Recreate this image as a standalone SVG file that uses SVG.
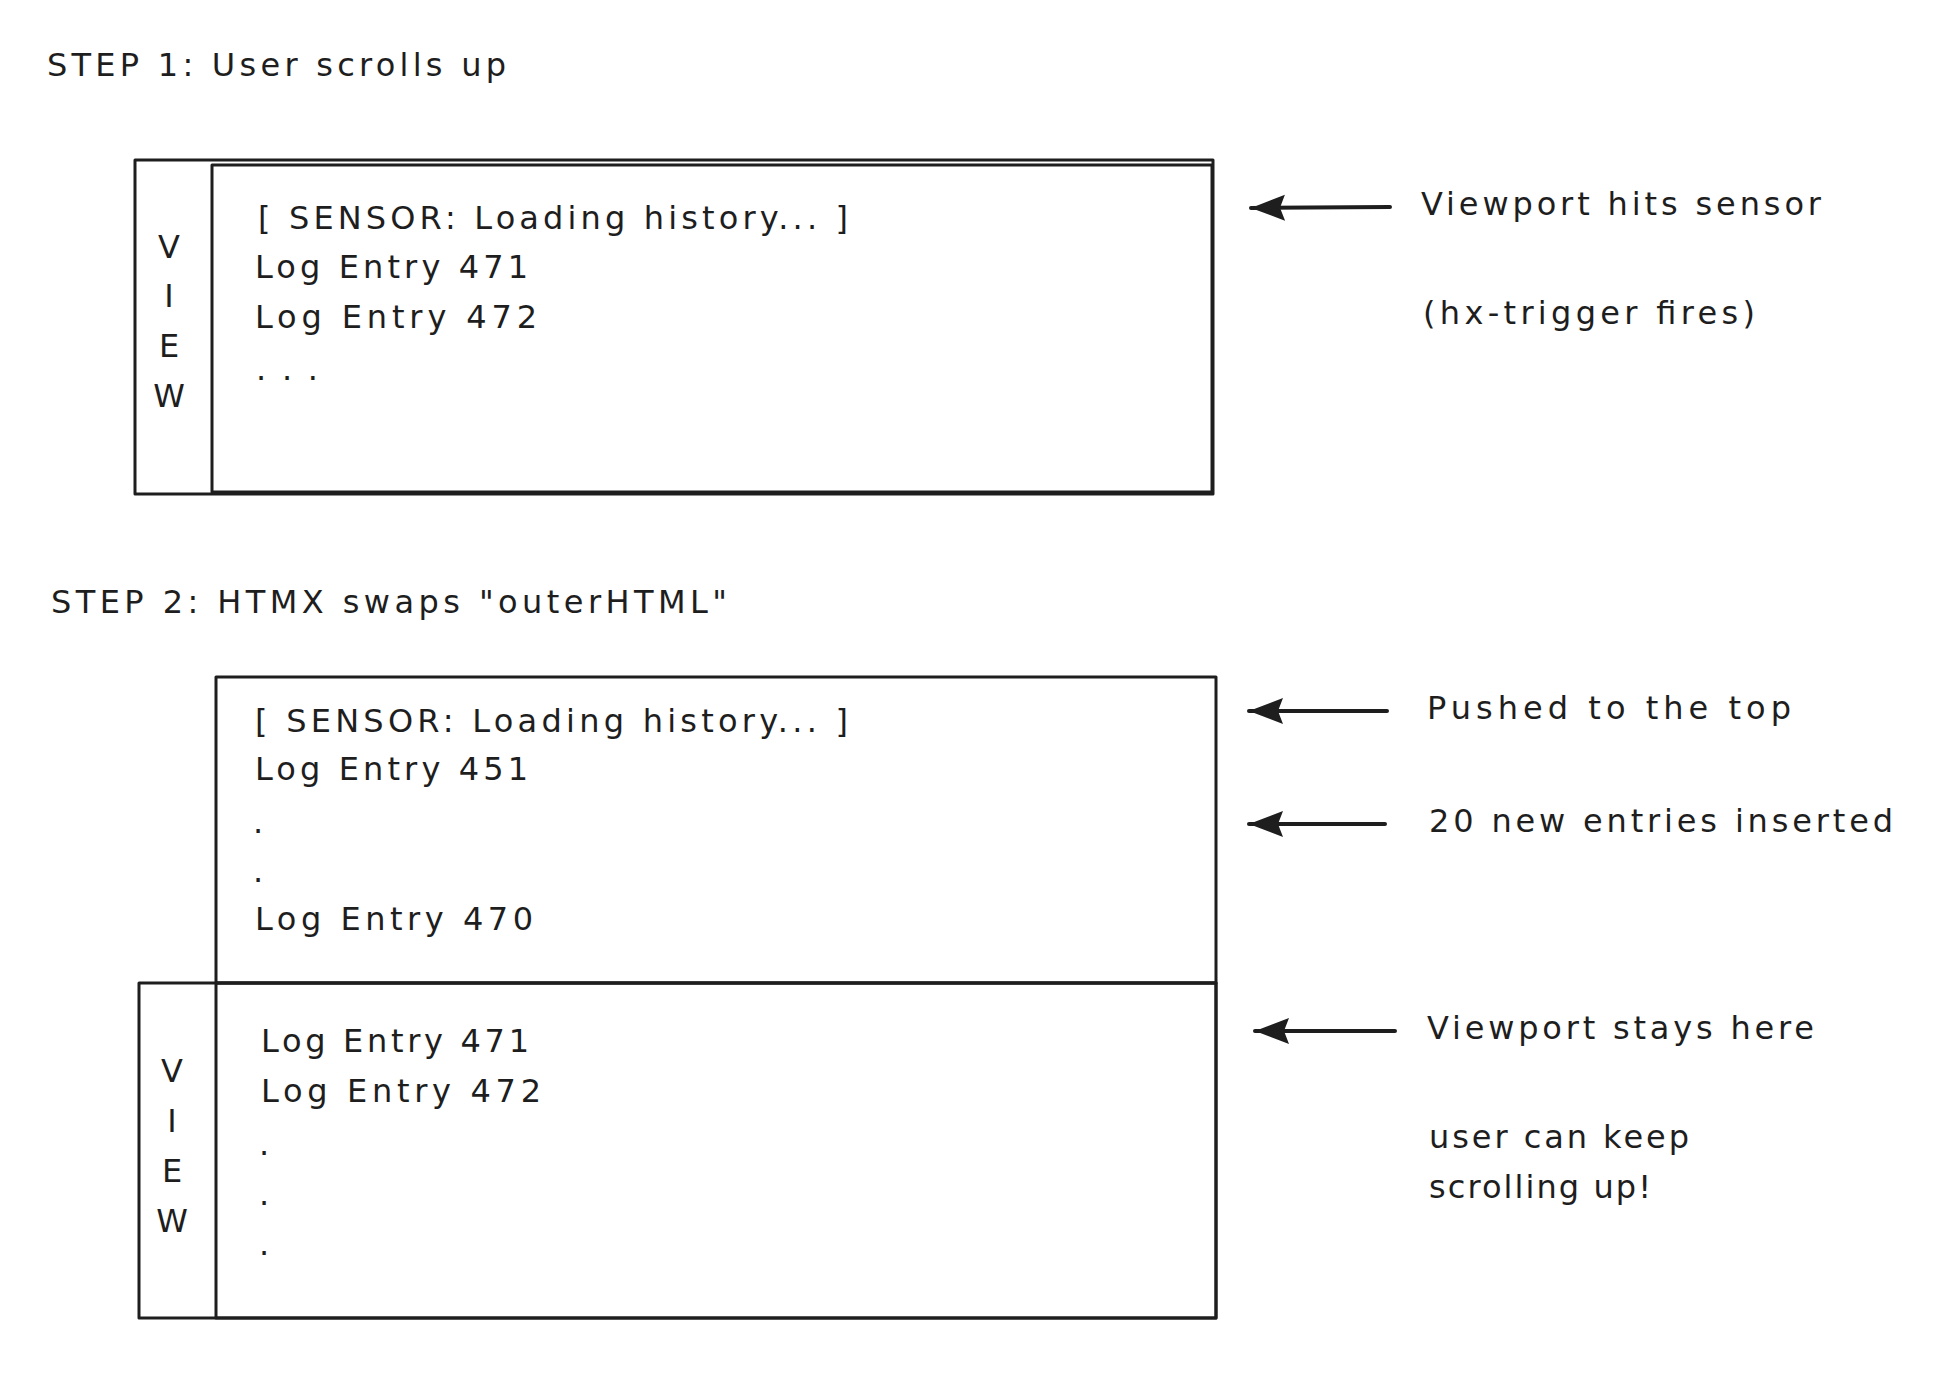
<svg xmlns="http://www.w3.org/2000/svg" width="1956" height="1388" viewBox="0 0 1956 1388">
<style>
  .t { font-family: "DejaVu Sans", "Liberation Sans", sans-serif; font-size: 32px; fill: #1e1e1e; }
  .v { font-family: "DejaVu Sans", "Liberation Sans", sans-serif; font-size: 32px; fill: #1e1e1e; text-anchor: middle; }
  .box { fill: none; stroke: #1e1e1e; stroke-width: 3; stroke-linejoin: round; }
  .arr { fill: none; stroke: #1e1e1e; stroke-width: 4; stroke-linecap: round; }
</style>
<defs>
  <marker id="ah" markerUnits="userSpaceOnUse" markerWidth="40" markerHeight="32" refX="34" refY="16" orient="auto">
    <path d="M0,3 L34,16 L0,29 L5,16 Z" fill="#1e1e1e"/>
  </marker>
</defs>
<rect width="1956" height="1388" fill="#ffffff"/>

<g id="step1-title">
  <text class="t" x="47" y="76" textLength="459">STEP 1: User scrolls up</text>
</g>

<g id="step1-view">
  <rect class="box" x="135" y="160" width="1078" height="334"/>
  <text class="v" x="169" y="258">V</text>
  <text class="v" x="169" y="307">I</text>
  <text class="v" x="169" y="357">E</text>
  <text class="v" x="169" y="407">W</text>
</g>

<g id="step1-content">
  <rect class="box" x="212" y="165" width="1000" height="327"/>
  <text class="t" x="258" y="229" textLength="590">[ SENSOR: Loading history... ]</text>
  <text class="t" x="255" y="278" textLength="273">Log Entry 471</text>
  <text class="t" x="255" y="328" textLength="282">Log Entry 472</text>
  <text class="t" x="256" y="380" textLength="62">. . .</text>
</g>

<g id="step1-notes">
  <text class="t" x="1421" y="215" textLength="400">Viewport hits sensor</text>
  <text class="t" x="1423" y="324" textLength="332">(hx-trigger fires)</text>
</g>

<g id="step2-title">
  <text class="t" x="51" y="613" textLength="676">STEP 2: HTMX swaps "outerHTML"</text>
</g>

<g id="step2-history">
  <rect class="box" x="216" y="677" width="1000" height="306"/>
  <text class="t" x="255" y="732" textLength="593">[ SENSOR: Loading history... ]</text>
  <text class="t" x="255" y="780" textLength="273">Log Entry 451</text>
  <text class="t" x="253" y="833">.</text>
  <text class="t" x="253" y="882">.</text>
  <text class="t" x="255" y="930" textLength="278">Log Entry 470</text>
</g>

<g id="step2-view">
  <rect class="box" x="139" y="983" width="1077" height="335"/>
  <text class="v" x="172" y="1082">V</text>
  <text class="v" x="172" y="1132">I</text>
  <text class="v" x="172" y="1182">E</text>
  <text class="v" x="172" y="1232">W</text>
</g>

<g id="step2-content">
  <rect class="box" x="216" y="983" width="1000" height="335"/>
  <text class="t" x="261" y="1052" textLength="268">Log Entry 471</text>
  <text class="t" x="261" y="1102" textLength="280">Log Entry 472</text>
  <text class="t" x="259" y="1155">.</text>
  <text class="t" x="259" y="1205">.</text>
  <text class="t" x="259" y="1255">.</text>
</g>

<g id="step2-notes">
  <text class="t" x="1427" y="719" textLength="364">Pushed to the top</text>
  <text class="t" x="1429" y="832" textLength="464">20 new entries inserted</text>
  <text class="t" x="1427" y="1039" textLength="387">Viewport stays here</text>
  <text class="t" x="1429" y="1148" textLength="260">user can keep</text>
  <text class="t" x="1429" y="1198" textLength="222">scrolling up!</text>
</g>

<g id="connectors">
  <line class="arr" x1="1390" y1="207" x2="1251" y2="208" marker-end="url(#ah)"/>
  <line class="arr" x1="1387" y1="711" x2="1249" y2="711" marker-end="url(#ah)"/>
  <line class="arr" x1="1385" y1="824" x2="1249" y2="824" marker-end="url(#ah)"/>
  <line class="arr" x1="1395" y1="1031" x2="1255" y2="1031" marker-end="url(#ah)"/>
</g>
</svg>
